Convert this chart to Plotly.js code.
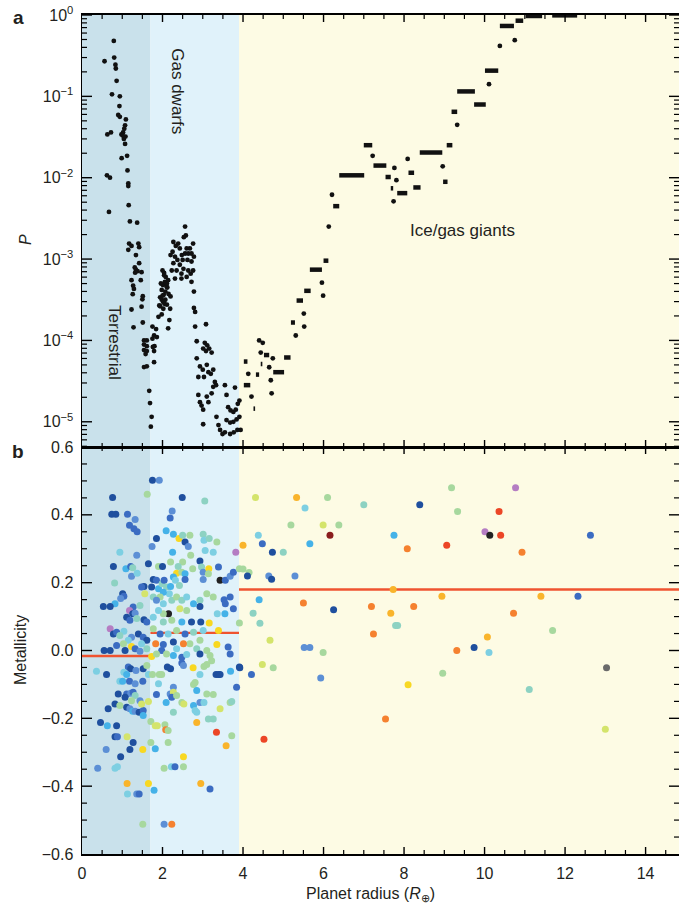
<!DOCTYPE html>
<html><head><meta charset="utf-8">
<script src="https://cdn.plot.ly/plotly-3.0.1.min.js"></script>
<style>html,body{margin:0;padding:0;background:#fff}</style>
</head><body><div id="chart" style="width:679px;height:910px"></div>
<script>
// ---------- Panel a: probability P versus planet radius (single points) ----------
const ptR = [0.79,0.56,0.80,0.83,0.84,0.86,0.745,0.94,0.93,0.90,0.94,1.09,0.63,0.72,1.07,1.05,1.02,0.98,1.08,1.04,1.07,1.01,0.985,1.12,0.62,0.695,1.13,1.15,1.15,1.16,0.67,1.19,1.37,1.17,1.23,1.40,1.42,1.15,1.34,1.42,1.31,1.34,1.38,1.32,1.48,1.23,1.46,1.27,1.29,1.26,1.51,1.50,1.48,1.23,1.51,1.28,1.54,1.61,1.54,1.61,1.54,1.61,1.58,1.54,1.61,1.67,1.69,1.73,1.71,
 1.75,1.84,1.79,1.86,1.75,1.80,1.76,1.79,1.79,1.90,1.98,2.02,1.94,2.05,2.03,1.98,2.07,2.10,2.01,2.06,2.12,1.96,2.14,2.08,2.04,2.19,2.17,2.14,2.00,2.04,2.11,1.94,1.98,2.02,1.92,2.07,2.11,2.00,2.15,2.20,
 2.27,2.33,2.39,2.43,2.25,2.20,2.31,2.37,2.48,2.50,2.56,2.60,2.64,2.68,2.72,2.62,2.72,2.27,2.43,2.52,2.23,2.35,2.47,2.64,2.70,2.76,2.31,2.47,2.60,2.72,2.56,2.58,2.53,2.76,2.78,2.78,2.78,2.81,2.81,2.85,
 3.08,3.05,3.11,3.16,3.08,3.22,3.01,2.85,2.93,3.00,3.10,3.14,3.20,3.26,3.30,2.89,3.03,2.89,2.93,2.97,3.01,3.10,3.14,3.22,3.26,3.01,3.34,3.39,3.43,3.49,3.55,3.59,3.63,3.69,3.76,3.82,3.87,3.91,3.59,3.68,3.76,3.84,3.91,3.55,3.68,3.77,3.86,3.94,3.33,
 3.80,4.13,4.21,4.40,4.49,4.44,4.65,4.69,4.71,4.74,5.31,5.51,5.52,5.96,5.99,6.13,6.21,7.22,7.76,7.81,7.74,8.09,8.96,9.32,10.11,10.38,10.75];
const ptP = [0.48,0.27,0.30,0.245,0.22,0.155,0.106,0.100,0.076,0.059,0.056,0.052,0.034,0.036,0.044,0.040,0.036,0.034,0.032,0.030,0.026,0.033,0.0174,0.0186,0.0107,0.0100,0.0123,0.0085,0.0079,0.0046,0.0038,0.0029,0.0028,0.00155,0.00145,0.00155,0.0014,0.0013,0.00112,0.00089,0.00079,0.00074,0.00071,0.00068,0.00069,0.00055,0.00055,0.00047,0.00043,0.00037,0.00035,0.00032,0.00026,0.00024,0.000166,0.000145,1.0e-4,1.0e-4,8.9e-5,8.5e-5,7.6e-5,7.4e-5,6.8e-5,4.7e-5,4.8e-5,2.4e-5,1.7e-5,1.15e-5,8.7e-6,
 1.48e-4,1.38e-4,1.15e-4,1.10e-4,1.05e-4,8.5e-5,8.3e-5,7.4e-5,5.4e-5,1.95e-4,2.09e-4,2.45e-4,2.63e-4,2.82e-4,3.63e-4,4.17e-4,3.98e-4,4.57e-4,4.79e-4,5.25e-4,4.47e-4,5.01e-4,5.50e-4,6.03e-4,6.76e-4,2.45e-4,1.78e-4,1.41e-4,7.24e-4,6.31e-4,5.0e-4,3.39e-4,3.16e-4,2.95e-4,2.69e-4,3.16e-4,2.75e-4,3.55e-4,3.72e-4,3.47e-4,
 1.62e-3,1.45e-3,1.55e-3,1.35e-3,1.23e-3,1.12e-3,1.07e-3,9.77e-4,1.12e-3,9.77e-4,1.17e-3,1.35e-3,1.17e-3,1.35e-3,1.17e-3,9.77e-4,9.33e-4,8.91e-4,8.51e-4,7.59e-4,7.24e-4,7.24e-4,6.61e-4,7.24e-4,6.61e-4,7.24e-4,5.75e-4,5.75e-4,6.03e-4,5.25e-4,2.51e-3,1.95e-3,1.86e-3,1.55e-3,1.07e-3,3.98e-4,2.51e-4,2.24e-4,1.48e-4,9.77e-5,
 1.58e-4,9.33e-5,8.71e-5,7.94e-5,7.41e-5,7.08e-5,7.94e-5,6.03e-5,4.79e-5,4.37e-5,5.01e-5,4.07e-5,3.89e-5,4.37e-5,3.09e-5,3.55e-5,3.55e-5,2.14e-5,1.74e-5,1.58e-5,1.41e-5,2.04e-5,1.74e-5,2.24e-5,2.69e-5,9.33e-6,1.15e-5,9.12e-6,7.94e-6,7.08e-6,2.82e-5,2.14e-5,1.51e-5,1.38e-5,1.32e-5,1.41e-5,1.66e-5,1.82e-5,1.05e-5,9.77e-6,1.0e-5,1.07e-5,1.15e-5,7.41e-6,7.08e-6,7.41e-6,7.94e-6,7.94e-6,2.82e-5,
 2.63e-5,3.89e-5,2.04e-5,1.0e-4,9.33e-5,7.08e-5,4.68e-5,3.24e-5,2.24e-5,6.03e-5,1.15e-4,2.14e-4,1.48e-4,5.13e-4,3.55e-4,2.51e-3,6.17e-3,1.86e-2,1.32e-2,9.33e-3,5.13e-3,1.70e-2,1.38e-2,4.47e-2,0.141,0.417,0.490];

// ---------- Panel a: runs of equal P (drawn as dashes) ----------
const dashR0 = [4.02,4.02,4.26,4.32,4.44,4.52,4.75,5.02,5.19,5.33,5.52,5.66,6.00,6.24,6.39,7.00,7.24,7.54,7.67,7.83,8.11,8.23,8.39,8.97,9.06,9.18,9.32,9.74,10.01,10.38,10.77,11.02,11.68];
const dashR1 = [4.18,4.11,4.30,4.40,4.48,4.65,5.02,5.18,5.29,5.49,5.68,5.96,6.12,6.39,7.01,7.21,7.56,7.67,7.73,8.08,8.25,8.41,8.95,9.08,9.20,9.32,9.76,10.03,10.34,10.73,10.96,11.43,12.30];
const dashP  = [2.82e-5,5.50e-5,1.45e-5,3.80e-5,5.13e-5,6.61e-5,4.07e-5,6.17e-5,1.66e-4,3.09e-4,4.07e-4,7.41e-4,9.55e-4,4.47e-3,1.07e-2,2.51e-2,1.41e-2,1.02e-2,7.41e-3,6.46e-3,1.15e-2,7.59e-3,2.04e-2,8.91e-3,2.51e-2,6.46e-2,0.115,7.94e-2,0.207,0.733,0.851,0.973,0.99];

// ---------- Panel b: host-star metallicity ----------
const metR = [0.76,0.74,0.84,1.13,1.32,1.18,1.29,1.37,0.94,1.36,1.65,0.78,1.09,1.21,1.26,1.23,1.37,0.81,1.54,1.48,1.56,1.01,1.04,0.96,0.82,0.53,0.70,1.27,1.44,1.18,1.26,1.32,1.11,1.19,1.36,1.54,1.61,0.70,0.78,0.86,1.04,0.94,1.23,1.40,1.52,1.61,1.15,1.03,1.48,0.55,0.70,1.23,1.07,1.32,1.44,1.61,0.86,
 0.36,0.61,1.15,1.21,1.04,1.11,1.34,1.52,1.61,1.65,0.94,1.01,1.18,1.32,1.51,0.90,1.11,1.21,1.27,1.32,1.07,0.82,0.94,0.65,1.11,1.19,1.26,1.32,1.42,1.52,1.52,1.23,1.44,1.48,1.65,0.46,0.63,0.86,0.82,0.88,1.12,1.27,0.60,1.19,1.51,0.96,0.39,0.82,0.88,1.12,1.13,1.36,1.42,1.51,
 1.75,1.92,1.62,2.49,3.05,2.24,2.19,1.85,2.09,2.27,2.41,2.50,2.56,2.64,2.68,2.70,3.01,3.03,3.16,3.35,3.82,3.06,3.26,2.25,1.74,1.90,2.00,2.20,2.50,2.39,2.35,2.48,2.56,2.27,2.32,2.42,2.56,2.75,2.93,2.97,3.01,3.15,3.14,3.01,3.39,3.43,3.56,3.68,3.76,3.68,3.53,3.56,3.91,1.77,1.85,1.73,1.90,1.99,2.04,2.10,2.20,2.17,2.02,1.94,1.77,1.85,2.02,2.23,2.35,2.48,2.60,2.93,3.10,3.26,2.93,2.77,2.60,2.43,2.15,2.02,1.90,1.77,2.02,2.23,2.48,2.72,2.95,3.16,3.36,3.55,3.76,3.91,1.77,1.94,2.14,2.35,2.56,2.77,3.01,3.39,3.35,2.93,2.68,2.52,2.27,2.02,1.83,1.73,1.98,2.35,2.85,3.10,3.63,
 1.85,2.10,2.27,2.48,2.60,2.93,3.18,3.68,2.12,2.20,2.48,2.52,2.76,3.03,3.10,3.22,2.93,3.33,3.39,3.43,3.69,3.91,3.84,1.75,1.92,1.98,1.90,2.27,2.77,2.81,2.85,1.85,2.09,2.19,2.27,2.23,2.35,2.48,2.53,2.77,2.81,2.85,2.93,3.03,3.10,3.26,3.43,3.68,3.72,2.27,3.14,3.26,2.85,3.34,3.58,3.72,1.71,1.82,1.87,2.06,2.08,2.14,2.14,1.71,1.82,2.04,2.22,2.31,2.52,2.52,1.65,1.79,2.04,2.23,2.95,3.18,
 4.31,5.33,6.10,5.54,7.00,8.39,9.18,9.33,5.19,5.99,6.38,4.38,6.16,7.75,4.00,4.48,4.73,5.00,5.66,8.08,9.06,4.00,4.15,4.11,4.64,4.71,5.29,7.73,8.94,4.40,5.50,6.25,7.19,8.24,7.67,4.25,4.42,7.79,7.84,7.24,4.67,5.52,5.66,5.99,9.31,9.74,10.77,10.36,10.01,10.13,10.40,12.63,10.93,11.40,12.32,10.72,11.69,10.07,10.11,3.92,4.21,4.48,4.75,5.93,8.10,8.96,11.11,13.03,13.00,7.54,4.52];
const metZ = [0.451,0.402,0.402,0.402,0.386,0.369,0.359,0.350,0.290,0.281,0.256,0.248,0.241,0.248,0.244,0.219,0.228,0.199,0.189,0.187,0.167,0.167,0.160,0.153,0.138,0.130,0.130,0.128,0.133,0.118,0.108,0.110,0.098,0.089,0.094,0.091,0.084,0.064,0.049,0.054,0.057,0.044,0.039,0.049,0.039,0.030,0.030,0.020,0.020,0.0,0.0,0.012,0.0,0.005,-0.002,0.005,0.015,
 -0.061,-0.071,-0.049,-0.054,-0.064,-0.071,-0.059,-0.054,-0.044,-0.071,-0.091,-0.091,-0.091,-0.098,-0.091,-0.128,-0.128,-0.126,-0.123,-0.133,-0.138,-0.158,-0.162,-0.172,-0.167,-0.172,-0.179,-0.179,-0.182,-0.177,-0.192,-0.148,-0.148,-0.158,-0.150,-0.212,-0.222,-0.222,-0.254,-0.254,-0.254,-0.271,-0.292,-0.292,-0.292,-0.313,-0.347,-0.347,-0.343,-0.392,-0.423,-0.423,-0.423,-0.512,
 0.502,0.502,0.461,0.451,0.441,0.411,0.391,0.330,0.353,0.343,0.330,0.340,0.320,0.307,0.340,0.281,0.343,0.325,0.330,0.320,0.290,0.295,0.290,0.290,0.307,0.248,0.248,0.261,0.261,0.248,0.228,0.231,0.226,0.217,0.207,0.192,0.209,0.241,0.264,0.246,0.231,0.241,0.226,0.209,0.246,0.207,0.207,0.219,0.231,0.158,0.150,0.138,0.241,0.209,0.207,0.187,0.182,0.197,0.207,0.187,0.189,0.167,0.172,0.158,0.158,0.148,0.138,0.148,0.158,0.148,0.158,0.148,0.167,0.158,0.130,0.138,0.118,0.123,0.108,0.108,0.118,0.098,0.084,0.089,0.084,0.084,0.084,0.081,0.108,0.108,0.123,0.081,0.064,0.049,0.049,0.059,0.049,0.054,0.059,0.059,0.018,0.030,0.020,0.020,0.025,0.018,0.020,-0.018,0.0,0.005,0.005,0.0,0.010,
 -0.010,-0.010,-0.015,-0.020,-0.012,-0.010,-0.015,-0.010,-0.049,-0.054,-0.037,-0.044,-0.051,-0.047,-0.041,-0.030,-0.071,-0.071,-0.071,-0.071,-0.061,-0.049,-0.108,-0.071,-0.071,-0.071,-0.098,-0.108,-0.100,-0.094,-0.118,-0.130,-0.153,-0.128,-0.123,-0.138,-0.133,-0.153,-0.158,-0.162,-0.177,-0.182,-0.153,-0.153,-0.128,-0.130,-0.172,-0.153,-0.150,-0.182,-0.202,-0.202,-0.212,-0.241,-0.281,-0.251,-0.209,-0.222,-0.222,-0.219,-0.234,-0.236,-0.271,-0.271,-0.290,-0.347,-0.343,-0.343,-0.313,-0.343,-0.392,-0.412,-0.512,-0.512,-0.392,-0.408,
 0.451,0.451,0.451,0.420,0.430,0.430,0.480,0.410,0.370,0.370,0.370,0.340,0.340,0.340,0.310,0.315,0.290,0.290,0.315,0.300,0.310,0.240,0.230,0.220,0.220,0.210,0.220,0.180,0.160,0.150,0.140,0.120,0.130,0.130,0.110,0.110,0.080,0.074,0.074,0.049,0.030,0.009,0.009,-0.006,0.000,0.009,0.480,0.410,0.350,0.340,0.340,0.340,0.290,0.160,0.160,0.110,0.059,0.040,-0.006,-0.051,-0.071,-0.041,-0.051,-0.081,-0.101,-0.067,-0.115,-0.051,-0.232,-0.202,-0.262];
const metCls = ['db','db','db','b','mb','b','b','b','c','mb','db','db','lb','b','t','mb','c','t','db','b','yg','db','b','mb','lb','db','db','b','t','p','db','mb','db','b','t','db','b','p','db','b','c','t','mb','db','b','db','c','g','c','db','db','y','db','b','mb','t','b',
 'c','db','b','db','c','lb','mb','db','g','c','c','lb','b','mb','b','db','b','mb','b','t','db','db','g','db','db','mb','lb','mb','db','b','lb','g','mb','yg','yg','db','lb','db','db','b','yg','db','mb','db','y','db','mb','c','c','yo','c','mb','b','g',
 'db','mb','g','db','t','mb','b','db','lb','lb','y','t','db','mb','g','g','t','c','t','g','p','c','c','lb','mb','g','db','g','g','t','y','g','lb','lb','c','t','b','g','db','t','mb','y','g','mb','b','k','b','mb','b','b','b','b','g','db','b','db','lb','t','b','t','lb','c','lb','g','t','mb','c','t','g','t','c','t','g','g','db','lb','g','yg','k','g','c','c','t','g','lb','db','db','y','c','lb','b','g','g','b','c','g','b','t','c','y','y','g','g','o','db','b','o','y','b','c','t','g','b',
 'g','g','lb','b','c','db','g','b','db','db','b','mb','y','g','g','g','c','db','db','db','lb','db','b','g','g','g','c','mb','g','g','lb','b','lb','mb','yg','b','g','g','yg','lb','c','c','mb','c','g','g','yg','g','t','t','t','t','yo','r','yo','g','g','yg','yg','g','o','g','g','g','lb','g','c','b','y','g','y','lb','mb','o','yo','b',
 'yg','yo','g','c','t','db','g','g','g','yg','g','c','dr','lb','yo','b','db','t','lb','o','r','g','g','db','mb','db','mb','yo','yo','lb','o','db','o','o','yo','t','t','t','t','o','yg','mb','mb','g','o','db','p','r','p','k','r','b','o','yo','b','o','g','yo','c','db','b','yg','g','mb','y','g','t','gr','yg','o','r'];

// ---------- Planet classes ----------
const classEdges = [0, 1.7, 3.9, 14.83];
const classNames = ['Terrestrial', 'Gas dwarfs', 'Ice/gas giants'];
const classMeanMet = [-0.016, 0.052, 0.18];

// ---------- Tick labels ----------
const pTickVals = [1e-5, 1e-4, 1e-3, 1e-2, 1e-1, 1];
const pTickText = ['10<sup>−5</sup>','10<sup>−4</sup>','10<sup>−3</sup>','10<sup>−2</sup>','10<sup>−1</sup>','10<sup>0</sup>'];

// ---------- styling ----------
const palette = {db:'#1f4f9e', b:'#3b6cc2', mb:'#5c8fd5', lb:'#45b2e8', c:'#7dcfe2', t:'#8dd2c2', g:'#a7d89e',
  yg:'#d4e46b', y:'#f8d822', yo:'#f9b42b', o:'#f5812f', r:'#ec4626', dr:'#8a1d1d', p:'#b57dc3', k:'#222222', gr:'#6a6a6a'};
const bgColors = ['#c9e1eb', '#e0f2fa', '#fdfbe4'];
const FONT = 'Liberation Sans, Arial, Helvetica, sans-serif';
const TXT = '#231f20';
const R_MAX = 14.83, LOG_MIN = -5.31;
const H = 839;
const split = 407 / H;

const dX = [], dY = [];
dashP.forEach((p, i) => { dX.push(dashR0[i], dashR1[i], null); dY.push(p, p, null); });
const mX = [], mY = [];
classMeanMet.forEach((v, i) => { mX.push(classEdges[i], classEdges[i+1], null); mY.push(v, v, null); });

const traces = [
  {x: dX, y: dY, xaxis: 'x2', yaxis: 'y2', mode: 'lines', line: {color: '#111', width: 4.5}, hoverinfo: 'skip', showlegend: false},
  {x: ptR, y: ptP, xaxis: 'x2', yaxis: 'y2', mode: 'markers', marker: {color: '#111', size: 4.8}, showlegend: false},
  {x: mX, y: mY, xaxis: 'x', yaxis: 'y', mode: 'lines', line: {color: '#ef5330', width: 2.4}, showlegend: false},
  {x: metR, y: metZ, xaxis: 'x', yaxis: 'y', mode: 'markers', marker: {color: metCls.map(c => palette[c]), size: 7}, showlegend: false}
];

// background bands
const shapes = classNames.map((n, i) => ({type: 'rect', xref: 'x', yref: 'paper', x0: classEdges[i], x1: classEdges[i+1], y0: 0, y1: 1,
  fillcolor: bgColors[i], line: {width: 0}, layer: 'below'}));

// inside tick marks (drawn as pixel-sized axis decorations, since axis ticks do not render in this build)
function vTick(xv, yAnchor, len, w) {   // vertical tick on a horizontal axis; len>0 points up
  return {type: 'line', layer: 'above', xref: 'x', yref: 'paper', ysizemode: 'pixel', yanchor: yAnchor,
    x0: xv, x1: xv, y0: 0, y1: len, line: {color: 'black', width: w}};
}
function hTick(yref, yv, xAnchor, len, w) { // horizontal tick on a vertical axis; len>0 points right
  return {type: 'line', layer: 'above', xref: 'paper', yref: yref, xsizemode: 'pixel', xanchor: xAnchor,
    x0: 0, x1: len, y0: yv, y1: yv, line: {color: 'black', width: w}};
}
for (let k = 1; k * 0.5 < R_MAX; k++) {
  const xv = k * 0.5, major = (k % 4 === 0);
  const len = major ? 7 : 4, w = major ? 1.4 : 1.2;
  shapes.push(vTick(xv, 0, len, w), vTick(xv, split, -len, w), vTick(xv, split, len, w), vTick(xv, 1, -len, w));
}
for (let k = -11; k <= 11; k++) {
  const yv = k * 0.05, major = (k % 4 === 0);
  const len = major ? 10 : 5, w = major ? 1.4 : 1.2;
  shapes.push(hTick('y', yv, 0, len, w), hTick('y', yv, 1, -len, w));
}
for (let e = -6; e <= 0; e++) {
  for (let m = 1; m <= 9; m++) {
    const lv = e + Math.log10(m);
    if (lv <= LOG_MIN || lv > 0) continue;
    const frac = (lv - LOG_MIN) / (0 - LOG_MIN);
    const len = m === 1 ? 10 : 5, w = m === 1 ? 1.4 : 1.2;
    shapes.push(hTick('y2 domain', frac, 0, len, w), hTick('y2 domain', frac, 1, -len, w));
  }
}

function ax(extra) {
  return Object.assign({showline: true, linecolor: 'black', linewidth: 1.5, ticks: '', mirror: true,
    showgrid: false, zeroline: false, tickfont: {family: FONT, size: 16, color: TXT}}, extra);
}

const layout = {
  width: 679, height: 910, margin: {l: 82, r: 0, t: 15, b: 56},
  paper_bgcolor: '#fff', plot_bgcolor: 'rgba(0,0,0,0)', showlegend: false, hovermode: false,
  font: {family: FONT, color: TXT},
  xaxis: ax({domain: [0, 1], anchor: 'y', range: [0, R_MAX], tick0: 0, dtick: 2, ticklabelstandoff: 4}),
  xaxis2: ax({domain: [0, 1], anchor: 'y2', range: [0, R_MAX], tick0: 0, dtick: 2, showticklabels: false, linewidth: 2}),
  yaxis: ax({domain: [0, split], anchor: 'x', range: [-0.6, 0.6], tick0: 0, dtick: 0.2, tickformat: '.1f', ticklabelstandoff: 4}),
  yaxis2: ax({domain: [split, 1], anchor: 'x2', type: 'log', range: [LOG_MIN, 0], tickvals: pTickVals, ticktext: pTickText, ticklabelstandoff: 4}),
  shapes: shapes,
  annotations: [
    {xref: 'paper', yref: 'paper', x: (18 - 82) / 597, y: (854 - 17) / H, text: '<b>a</b>', showarrow: false, font: {size: 19, color: TXT}, xanchor: 'center', yanchor: 'middle'},
    {xref: 'paper', yref: 'paper', x: (18 - 82) / 597, y: (854 - 452) / H, text: '<b>b</b>', showarrow: false, font: {size: 19, color: TXT}, xanchor: 'center', yanchor: 'middle'},
    {xref: 'paper', yref: 'paper', x: (25 - 82) / 597, y: (854 - 240) / H, text: '<i>P</i>', textangle: -90, showarrow: false, font: {size: 16, color: TXT}, xanchor: 'center', yanchor: 'middle'},
    {xref: 'paper', yref: 'paper', x: (20 - 82) / 597, y: (854 - 650) / H, text: 'Metallicity', textangle: -90, showarrow: false, font: {size: 16, color: TXT}, xanchor: 'center', yanchor: 'middle'},
    {xref: 'paper', yref: 'paper', x: (370 - 82) / 597, y: (854 - 894) / H, text: 'Planet radius (<i>R</i><sub>⊕</sub>)', showarrow: false, font: {size: 16, color: TXT}, xanchor: 'center', yanchor: 'middle'},
    {xref: 'x2', yref: 'y2', x: 2.38, y: -0.935, text: classNames[1], textangle: 90, showarrow: false, font: {size: 17, color: TXT}, xanchor: 'center', yanchor: 'middle'},
    {xref: 'x2', yref: 'y2', x: 0.82, y: -4.02, text: classNames[0], textangle: 90, showarrow: false, font: {size: 17, color: TXT}, xanchor: 'center', yanchor: 'middle'},
    {xref: 'x2', yref: 'y2', x: 9.44, y: -2.645, text: classNames[2], showarrow: false, font: {size: 17, color: TXT}, xanchor: 'center', yanchor: 'middle'}
  ]
};

Plotly.newPlot('chart', traces, layout, {staticPlot: true, displayModeBar: false});
</script>
</body></html>
